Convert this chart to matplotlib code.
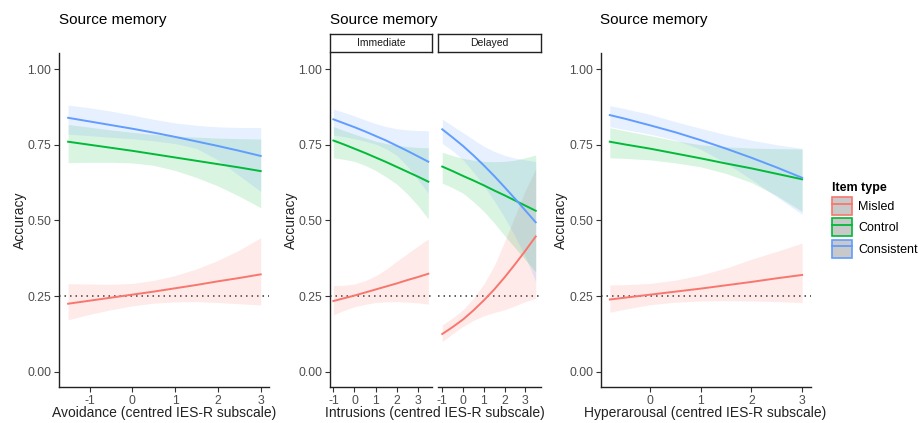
import matplotlib
matplotlib.use("Agg")
import matplotlib.pyplot as plt
from matplotlib.patches import Patch
from matplotlib.lines import Line2D

plt.rcParams['font.family'] = ['Liberation Sans', 'DejaVu Sans']

# ---------------- data ----------------
item_types = ["Misled", "Control", "Consistent"]
colors = {"Misled": "#F8766D", "Control": "#00BA38", "Consistent": "#619CFF"}

# Panel 1: Avoidance
x_avoid = [-1.5, -1, -0.5, 0, 0.5, 1, 1.5, 2, 2.5, 3]
avoid_fit = {
    "Consistent": [0.839, 0.827, 0.815, 0.803, 0.790, 0.776, 0.761, 0.746, 0.730, 0.713],
    "Control":    [0.760, 0.750, 0.740, 0.730, 0.719, 0.708, 0.697, 0.686, 0.675, 0.663],
    "Misled":     [0.225, 0.235, 0.245, 0.255, 0.265, 0.276, 0.287, 0.299, 0.310, 0.322],
}
avoid_hi = {
    "Consistent": [0.881, 0.872, 0.861, 0.848, 0.834, 0.822, 0.814, 0.809, 0.807, 0.807],
    "Control":    [0.817, 0.808, 0.799, 0.791, 0.784, 0.779, 0.775, 0.772, 0.770, 0.769],
    "Misled":     [0.291, 0.290, 0.289, 0.292, 0.302, 0.318, 0.340, 0.368, 0.402, 0.443],
}
avoid_lo = {
    "Consistent": [0.785, 0.780, 0.775, 0.770, 0.763, 0.754, 0.738, 0.700, 0.648, 0.596],
    "Control":    [0.691, 0.692, 0.692, 0.690, 0.682, 0.665, 0.642, 0.614, 0.580, 0.542],
    "Misled":     [0.172, 0.190, 0.205, 0.218, 0.227, 0.231, 0.232, 0.229, 0.225, 0.221],
}

# Panel 2: Intrusions (Immediate / Delayed)
x_intr = [-1, -0.5, 0, 0.5, 1, 1.5, 2, 2.5, 3, 3.5]
imm_fit = {
    "Consistent": [0.834, 0.821, 0.808, 0.794, 0.779, 0.764, 0.747, 0.730, 0.712, 0.694],
    "Control":    [0.764, 0.751, 0.737, 0.723, 0.708, 0.693, 0.677, 0.661, 0.645, 0.628],
    "Misled":     [0.234, 0.243, 0.252, 0.262, 0.272, 0.282, 0.292, 0.303, 0.313, 0.324],
}
imm_hi = {
    "Consistent": [0.868, 0.857, 0.845, 0.832, 0.820, 0.810, 0.803, 0.799, 0.797, 0.796],
    "Control":    [0.810, 0.797, 0.785, 0.773, 0.762, 0.754, 0.748, 0.744, 0.741, 0.740],
    "Misled":     [0.285, 0.286, 0.290, 0.301, 0.317, 0.339, 0.365, 0.390, 0.415, 0.439],
}
imm_lo = {
    "Consistent": [0.782, 0.777, 0.770, 0.762, 0.752, 0.737, 0.715, 0.680, 0.635, 0.590],
    "Control":    [0.707, 0.702, 0.695, 0.682, 0.665, 0.644, 0.620, 0.588, 0.550, 0.505],
    "Misled":     [0.188, 0.203, 0.215, 0.223, 0.229, 0.231, 0.232, 0.230, 0.228, 0.224],
}
del_fit = {
    "Consistent": [0.801, 0.774, 0.746, 0.715, 0.682, 0.647, 0.610, 0.572, 0.533, 0.494],
    "Control":    [0.678, 0.663, 0.647, 0.632, 0.616, 0.599, 0.583, 0.566, 0.549, 0.532],
    "Misled":     [0.125, 0.148, 0.173, 0.203, 0.236, 0.272, 0.312, 0.355, 0.400, 0.447],
}
del_hi = {
    "Consistent": [0.835, 0.812, 0.790, 0.767, 0.745, 0.728, 0.715, 0.706, 0.700, 0.694],
    "Control":    [0.725, 0.714, 0.705, 0.699, 0.695, 0.694, 0.695, 0.699, 0.707, 0.716],
    "Misled":     [0.155, 0.178, 0.205, 0.243, 0.290, 0.350, 0.430, 0.515, 0.600, 0.670],
}
del_lo = {
    "Consistent": [0.754, 0.730, 0.700, 0.660, 0.615, 0.565, 0.510, 0.448, 0.380, 0.298],
    "Control":    [0.623, 0.608, 0.590, 0.562, 0.530, 0.492, 0.450, 0.410, 0.370, 0.330],
    "Misled":     [0.100, 0.126, 0.150, 0.170, 0.185, 0.196, 0.205, 0.218, 0.232, 0.243],
}

# Panel 3: Hyperarousal
x_hyper = [-0.8, -0.5, 0, 0.5, 1, 1.5, 2, 2.5, 3]
hyp_fit = {
    "Consistent": [0.848, 0.836, 0.814, 0.791, 0.765, 0.737, 0.707, 0.675, 0.641],
    "Control":    [0.760, 0.751, 0.737, 0.721, 0.705, 0.688, 0.672, 0.654, 0.636],
    "Misled":     [0.239, 0.245, 0.255, 0.265, 0.275, 0.286, 0.297, 0.309, 0.320],
}
hyp_hi = {
    "Consistent": [0.879, 0.869, 0.850, 0.826, 0.804, 0.783, 0.765, 0.750, 0.738],
    "Control":    [0.806, 0.796, 0.780, 0.763, 0.750, 0.743, 0.739, 0.737, 0.736],
    "Misled":     [0.287, 0.288, 0.292, 0.303, 0.320, 0.343, 0.372, 0.398, 0.425],
}
hyp_lo = {
    "Consistent": [0.810, 0.800, 0.785, 0.765, 0.735, 0.690, 0.635, 0.578, 0.520],
    "Control":    [0.707, 0.705, 0.700, 0.690, 0.677, 0.655, 0.625, 0.582, 0.530],
    "Misled":     [0.197, 0.207, 0.222, 0.230, 0.234, 0.235, 0.234, 0.232, 0.229],
}

chance = 0.25
y_ticks = [0.00, 0.25, 0.50, 0.75, 1.00]
y_ticklabels = ["0.00", "0.25", "0.50", "0.75", "1.00"]

# ---------------- figure ----------------
W, H = 919, 423
fig = plt.figure(figsize=(W / 100, H / 100), dpi=100)

def px_axes(left, right, top, bottom):
    return fig.add_axes([left / W, 1 - bottom / H, (right - left) / W, (bottom - top) / H])

TXT = "#4D4D4D"
LAB = "#222222"
LABFS = 10
TICKFS = 8.8

def style(ax, xlim, xticks):
    ax.set_xlim(*xlim)
    ax.set_ylim(-0.05, 1.053)
    for s in ["top", "right"]:
        ax.spines[s].set_visible(False)
    for s in ["left", "bottom"]:
        ax.spines[s].set_linewidth(1.0)
        ax.spines[s].set_color("#222222")
    ax.set_xticks(xticks)
    ax.set_xticklabels([str(t) for t in xticks])
    ax.tick_params(axis="both", length=3.5, width=0.8, color="#333333",
                   labelsize=TICKFS, labelcolor=TXT, pad=2)
    ax.set_yticks(y_ticks)
    ax.set_yticklabels(y_ticklabels)
    ax.axhline(chance, color="#333333", lw=1.1, ls=(0, (1, 2.6)), zorder=1)

def draw(ax, xs, fit, lo, hi):
    for it in item_types:
        ax.fill_between(xs, lo[it], hi[it], color=colors[it], alpha=0.15, lw=0, zorder=2)
    for it in item_types:
        ax.plot(xs, fit[it], color=colors[it], lw=1.4, zorder=3)

TOP, BOT = 53, 387

# Panel 1
ax1 = px_axes(59, 269, TOP, BOT)
draw(ax1, x_avoid, avoid_fit, avoid_lo, avoid_hi)
style(ax1, (-1.713, 3.194), [-1, 0, 1, 2, 3])
ax1.set_ylabel("Accuracy", fontsize=LABFS, color=LAB, labelpad=0.5)
fig.text(164 / W, 1 - 413 / H, "Avoidance (centred IES-R subscale)", fontsize=LABFS,
         color=LAB, ha="center", va="center")
fig.text(59 / W, 1 - 20 / H, "Source memory", fontsize=11, va="center", ha="left")

# Panel 2
ax2a = px_axes(330, 431.7, TOP, BOT)
draw(ax2a, x_intr, imm_fit, imm_lo, imm_hi)
style(ax2a, (-1.16, 3.66), [-1, 0, 1, 2, 3])
ax2a.set_ylabel("Accuracy", fontsize=LABFS, color=LAB, labelpad=0.5)

ax2b = px_axes(438.3, 540.7, TOP, BOT)
draw(ax2b, x_intr, del_fit, del_lo, del_hi)
style(ax2b, (-1.19, 3.74), [-1, 0, 1, 2, 3])
ax2b.set_yticklabels([])
ax2b.tick_params(axis="y", length=0)
ax2b.spines["left"].set_visible(False)

fig.text(435 / W, 1 - 413 / H, "Intrusions (centred IES-R subscale)", fontsize=LABFS,
         color=LAB, ha="center", va="center")
fig.text(330 / W, 1 - 20 / H, "Source memory", fontsize=11, va="center", ha="left")

# strips
for (l, r, lab) in [(330, 431.7, "Immediate"), (438.3, 540.7, "Delayed")]:
    sax = px_axes(l, r, 34, 52)
    sax.set_xticks([]); sax.set_yticks([])
    for s in sax.spines.values():
        s.set_linewidth(1.0)
        s.set_color("#222222")
    sax.text(0.5, 0.5, lab, ha="center", va="center", fontsize=7.5, color="#1A1A1A",
             transform=sax.transAxes)

# Panel 3
ax3 = px_axes(600.7, 810.7, TOP, BOT)
draw(ax3, x_hyper, hyp_fit, hyp_lo, hyp_hi)
style(ax3, (-0.98, 3.17), [0, 1, 2, 3])
ax3.set_ylabel("Accuracy", fontsize=LABFS, color=LAB, labelpad=0.5)
fig.text(705 / W, 1 - 413 / H, "Hyperarousal (centred IES-R subscale)", fontsize=LABFS,
         color=LAB, ha="center", va="center")
fig.text(600 / W, 1 - 20 / H, "Source memory", fontsize=11, va="center", ha="left")

# Legend
handles = [(Patch(facecolor="#C9C9C9", edgecolor=colors[it], lw=1.2),
            Line2D([], [], color=colors[it], lw=1.3)) for it in item_types]
leg = fig.legend(handles, item_types, loc="upper left",
                 bbox_to_anchor=(832 / W, 1 - 182 / H), frameon=False,
                 title="Item type", fontsize=9, title_fontsize=9,
                 handlelength=1.6, handleheight=1.85, handletextpad=0.5,
                 labelspacing=0.25, borderaxespad=0, borderpad=0)
leg.get_title().set_fontweight("bold")
leg._legend_box.align = "left"

fig.savefig("out.png", dpi=100)
